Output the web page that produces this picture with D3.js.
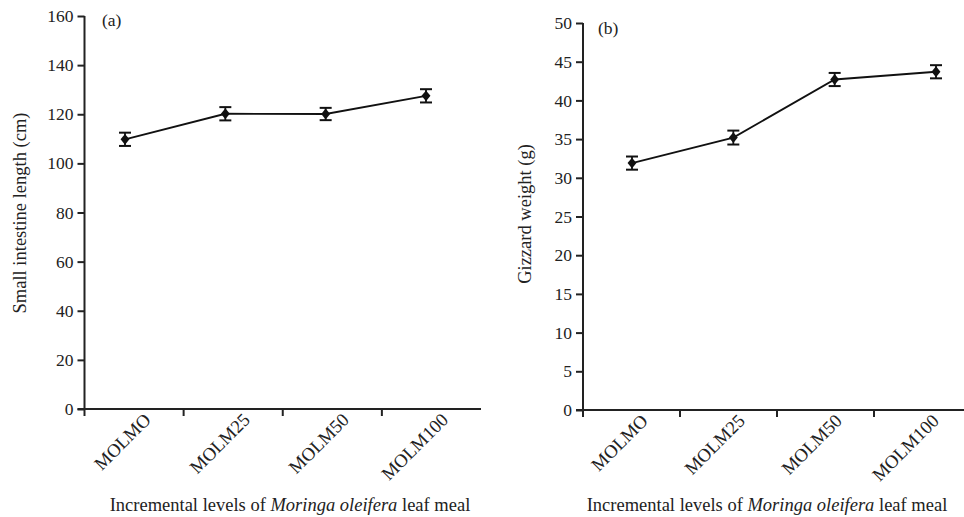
<!DOCTYPE html>
<html>
<head>
<meta charset="utf-8">
<script src="https://cdn.jsdelivr.net/npm/d3@7"></script>
<style>
  body { margin: 0; background: #fff; }
</style>
</head>
<body>
<script>
const width = 964;
const height = 517;
const font = '"Liberation Serif", "Times New Roman", serif';

// data
const categories = ['MOLMO', 'MOLM25', 'MOLM50', 'MOLM100'];
const intestineMean = [109.8, 120.2, 120.1, 127.5];
const intestineErr = [2.7, 2.7, 2.5, 2.7];
const gizzardMean = [31.9, 35.2, 42.7, 43.7];
const gizzardErr = [0.85, 0.9, 0.85, 0.85];
const intestineTicks = [0, 20, 40, 60, 80, 100, 120, 140, 160];
const gizzardTicks = [0, 5, 10, 15, 20, 25, 30, 35, 40, 45, 50];

const svg = d3
  .select('body')
  .append('svg')
  .attr('width', width)
  .attr('height', height);

const panels = [
  {
    tag: '(a)', title: 'Small intestine length (cm)',
    mean: intestineMean, err: intestineErr, ticks: intestineTicks, max: 160,
    axisX: 84.5, axisRight: 481, top: 16, bottom: 409,
    pointRange: [125, 426], titleX: 20, titleY: 213, tagX: 102, tagY: 26, xTitleX: 290
  },
  {
    tag: '(b)', title: 'Gizzard weight (g)',
    mean: gizzardMean, err: gizzardErr, ticks: gizzardTicks, max: 50,
    axisX: 583, axisRight: 971, top: 23, bottom: 410,
    pointRange: [632, 936], titleX: 525, titleY: 214, tagX: 598, tagY: 34, xTitleX: 767
  }
];

panels.forEach((p) => {
  const g = svg.append('g');

  const y = d3.scaleLinear().domain([0, p.max]).range([p.bottom, p.top]);
  const xBand = d3.scaleBand().domain(categories).range([p.axisX, p.axisRight]);
  const xPoint = d3.scalePoint().domain(categories).range(p.pointRange);

  // y axis
  const yAxis = g
    .append('g')
    .attr('transform', `translate(${p.axisX},0)`)
    .call(d3.axisLeft(y).tickValues(p.ticks).tickSize(7).tickPadding(4));
  yAxis.attr('font-family', null).attr('font-size', null);
  yAxis.select('.domain').attr('stroke', '#222').attr('stroke-width', 2).attr('d', `M0,${p.top}V${p.bottom}`);
  yAxis.selectAll('.tick line').attr('stroke', '#222').attr('stroke-width', 2);
  yAxis.selectAll('.tick text')
    .style('font-family', font)
    .style('font-size', '17.5px')
    .attr('fill', '#222');

  // x axis: ticks at the band starts
  const xAxis = g
    .append('g')
    .attr('transform', `translate(0,${p.bottom})`);
  xAxis
    .append('line')
    .attr('x1', p.axisX - 7)
    .attr('x2', p.axisRight)
    .attr('stroke', '#222')
    .attr('stroke-width', 2);
  xAxis
    .selectAll('.xtick')
    .data(categories)
    .enter()
    .append('line')
    .attr('class', 'xtick')
    .attr('x1', (d) => xBand(d))
    .attr('x2', (d) => xBand(d))
    .attr('y1', 0)
    .attr('y2', 7)
    .attr('stroke', '#222')
    .attr('stroke-width', 2);
  xAxis
    .selectAll('.xlabel')
    .data(categories)
    .enter()
    .append('text')
    .attr('class', 'xlabel')
    .attr('text-anchor', 'end')
    .attr('fill', '#222')
    .style('font-family', font)
    .style('font-size', '18.5px')
    .attr('transform', (d) => `translate(${xBand(d) + xBand.bandwidth() * 0.68},${12}) rotate(-45)`)
    .text((d) => d);

  // titles
  g.append('text')
    .attr('text-anchor', 'middle')
    .attr('fill', '#222')
    .style('font-family', font)
    .style('font-size', '18.5px')
    .attr('transform', `translate(${p.titleX + 6},${p.titleY}) rotate(-90)`)
    .text(p.title);

  const xt = g
    .append('text')
    .attr('text-anchor', 'middle')
    .attr('fill', '#222')
    .style('font-family', font)
    .style('font-size', '18.5px')
    .attr('x', p.xTitleX)
    .attr('y', 511);
  xt.append('tspan').text('Incremental levels of ');
  xt.append('tspan').style('font-style', 'italic').text('Moringa oleifera');
  xt.append('tspan').text(' leaf meal');

  g.append('text')
    .attr('fill', '#222')
    .style('font-family', font)
    .style('font-size', '17.5px')
    .attr('x', p.tagX)
    .attr('y', p.tagY)
    .text(p.tag);

  // line
  const line = d3
    .line()
    .x((d, i) => xPoint(categories[i]))
    .y((d) => y(d));
  g.append('path')
    .datum(p.mean)
    .attr('d', line)
    .attr('fill', 'none')
    .attr('stroke', '#111')
    .attr('stroke-width', 1.8);

  // error bars
  const eb = g
    .selectAll('.eb')
    .data(p.mean)
    .enter()
    .append('g')
    .attr('class', 'eb')
    .attr('transform', (d, i) => `translate(${xPoint(categories[i])},0)`);
  eb.append('line')
    .attr('y1', (d, i) => y(d - p.err[i]))
    .attr('y2', (d, i) => y(d + p.err[i]))
    .attr('stroke', '#111')
    .attr('stroke-width', 1.8);
  eb.append('line')
    .attr('x1', -6).attr('x2', 6)
    .attr('y1', (d, i) => y(d + p.err[i]))
    .attr('y2', (d, i) => y(d + p.err[i]))
    .attr('stroke', '#111')
    .attr('stroke-width', 2);
  eb.append('line')
    .attr('x1', -6).attr('x2', 6)
    .attr('y1', (d, i) => y(d - p.err[i]))
    .attr('y2', (d, i) => y(d - p.err[i]))
    .attr('stroke', '#111')
    .attr('stroke-width', 2);

  // diamond markers
  g.selectAll('.pt')
    .data(p.mean)
    .enter()
    .append('path')
    .attr('class', 'pt')
    .attr('d', d3.symbol(d3.symbolDiamond2, 62))
    .attr('transform', (d, i) => `translate(${xPoint(categories[i])},${y(d)}) scale(0.9,1.1)`)
    .attr('fill', '#111');
});
</script>
</body>
</html>
